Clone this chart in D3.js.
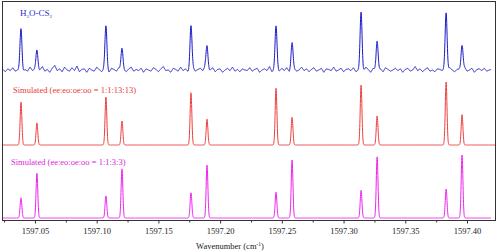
<!DOCTYPE html>
<html lang="en">
<head>
    <meta charset="UTF-8">
    <title>H2O-CS2 spectrum</title>
    <script src="https://d3js.org/d3.v7.min.js"></script>
    <style>
        body { margin: 0; background: #fff; }
        text { font-family: "Liberation Serif", "Times New Roman", serif; }
        .frame { fill: none; stroke: #333; stroke-width: 1px; }
        .axis path, .axis line { stroke: #333; }
        .axis text { font-size: 8.5px; fill: #222; font-family: "Liberation Serif", serif; }
    </style>
</head>
<body>
    <svg width="500" height="252"></svg>
    <script>
        // line positions (cm-1) shared by all three traces
        const linePos = [1597.0387, 1597.0516, 1597.1075, 1597.1205, 1597.1764, 1597.1894,
                         1597.2453, 1597.2583, 1597.3142, 1597.3272, 1597.3831, 1597.3960];
        // relative intensities
        const obsInt = [0.72, 0.37, 0.77, 0.39, 0.77, 0.42, 0.77, 0.47, 1.00, 0.51, 1.00, 0.44];
        const sim13Int = [0.68, 0.35, 0.76, 0.38, 0.83, 0.41, 0.90, 0.44, 0.95, 0.46, 1.00, 0.48];
        const sim3Int = [0.32, 0.71, 0.35, 0.78, 0.40, 0.84, 0.41, 0.92, 0.44, 0.97, 0.46, 1.00];
        // baseline noise of the observed trace (units of 0.01), one value every 0.002 cm-1 from 1597.024
        const noiseStart = 1597.024;
        const noiseStep = 0.002;
        const blueNoise = [
            1,-3,2,-1,4,-2,0,3,-4,1,-2,5,-1,2,-3,0,6,-2,1,-4,
            3,8,-1,2,-3,5,0,-2,4,-1,7,-3,1,2,-4,3,0,-2,5,1,
            -3,2,0,-4,3,1,-2,4,-1,0,-3,2,5,-2,1,-1,3,-4,2,0,
            -2,4,1,-3,2,6,-1,0,-4,3,1,-2,5,-1,2,-3,0,4,-2,1,
            3,-1,7,-2,0,4,-3,1,2,-4,0,3,-1,5,-2,1,-3,2,0,-1,
            4,-2,1,3,-4,0,2,-1,6,-3,1,0,-2,3,-1,4,-3,1,2,-2,
            0,5,-1,2,-3,1,4,-2,0,3,-4,2,1,-1,5,-2,0,3,-3,1,
            2,-1,4,-3,0,2,-2,5,1,-4,3,0,-1,2,-3,4,1,-2,0,3,
            -1,2,-4,1,3,-2,0,6,-1,2,-3,1,4,-2,0,-3,2,1,-1,3,
            -2,4,0,-3,1,2,-1,5,-2,0,3,-4,1,2,-1,3,-2,0,1
        ];
        const majorTicks = [1597.05, 1597.10, 1597.15, 1597.20, 1597.25, 1597.30, 1597.35, 1597.40];
        const minorTicks = [1597.025, 1597.075, 1597.125, 1597.175, 1597.225, 1597.275, 1597.325, 1597.375];

        const svg = d3.select("svg");
        const plotL = 2, plotR = 496, plotT = 1, plotB = 221;

        const x = d3.scaleLinear().domain([1597.0233, 1597.4235]).range([plotL, plotR]);
        const yBlue = d3.scaleLinear().domain([0, 1]).range([70, 13]);
        const yRed = d3.scaleLinear().domain([0, 1]).range([145, 82]);
        const yMag = d3.scaleLinear().domain([0, 1]).range([218, 155]);

        function profile(ints, sigma) {
            return w => d3.sum(linePos, (p, i) => ints[i] * Math.exp(-0.5 * ((w - p) / sigma) ** 2));
        }
        function noiseAt(w) {
            const t = (w - noiseStart) / noiseStep;
            const i = Math.max(0, Math.min(blueNoise.length - 2, Math.floor(t)));
            const f = Math.max(0, Math.min(1, t - i));
            return (blueNoise[i] * (1 - f) + blueNoise[i + 1] * f) * 0.01;
        }

        const grid = d3.range(1597.0233, 1597.4235, 0.0001);
        const blueGrid = grid.filter(w => w <= 1597.4195);
        const magGrid = grid.filter(w => w <= 1597.4195);

        const obsF = profile(obsInt, 0.0008);
        const s13F = profile(sim13Int, 0.0007);
        const s3F = profile(sim3Int, 0.0007);

        const line = yS => d3.line().x(d => x(d[0])).y(d => yS(d[1]));

        svg.append("path")
            .attr("d", line(yBlue)(blueGrid.map(w => [w, obsF(w) + noiseAt(w)])))
            .attr("fill", "none").attr("stroke", "#1717c8").attr("stroke-width", 1);

        svg.append("path")
            .attr("d", line(yRed)(grid.map(w => [w, s13F(w)])))
            .attr("fill", "none").attr("stroke", "#ef3d3d").attr("stroke-width", 1);

        svg.append("path")
            .attr("d", line(yMag)(magGrid.map(w => [w, s3F(w)])))
            .attr("fill", "none").attr("stroke", "#ee22ee").attr("stroke-width", 1);

        // frame
        svg.append("rect").attr("class", "frame")
            .attr("x", plotL + 0.5).attr("y", plotT + 0.5)
            .attr("width", plotR - plotL - 1).attr("height", plotB - plotT - 1);

        // bottom axis
        const axis = svg.append("g").attr("class", "axis")
            .attr("transform", `translate(0,${plotB - 0.5})`)
            .call(d3.axisBottom(x).tickValues(majorTicks).tickFormat(d3.format(".2f")).tickSize(3).tickPadding(4));
        axis.select(".domain").remove();
        svg.append("g").attr("class", "axis")
            .attr("transform", `translate(0,${plotB - 0.5})`)
            .call(d3.axisBottom(x).tickValues(minorTicks).tickFormat("").tickSize(2))
            .select(".domain").remove();

        // labels
        const t1 = svg.append("text").attr("x", 20).attr("y", 16)
            .attr("font-size", 9).attr("fill", "#3030c8");
        t1.append("tspan").text("H");
        t1.append("tspan").attr("dy", 2).attr("font-size", 5).text("2");
        t1.append("tspan").attr("dy", -2).text("O-CS");
        t1.append("tspan").attr("dy", 2).attr("font-size", 5).text("2");

        svg.append("text").attr("x", 13).attr("y", 93)
            .attr("font-size", 8.5).attr("fill", "#e83838")
            .text("Simulated (ee:eo:oe:oo = 1:1:13:13)");

        svg.append("text").attr("x", 11).attr("y", 165)
            .attr("font-size", 8.5).attr("fill", "#dd22dd")
            .text("Simulated (ee:eo:oe:oo = 1:1:3:3)");

        const xl = svg.append("text").attr("x", 230).attr("y", 249)
            .attr("text-anchor", "middle").attr("font-size", 8.5).attr("fill", "#222");
        xl.append("tspan").text("Wavenumber (cm");
        xl.append("tspan").attr("dy", -3).attr("font-size", 5.5).text("-1");
        xl.append("tspan").attr("dy", 3).text(")");
    </script>
</body>
</html>
